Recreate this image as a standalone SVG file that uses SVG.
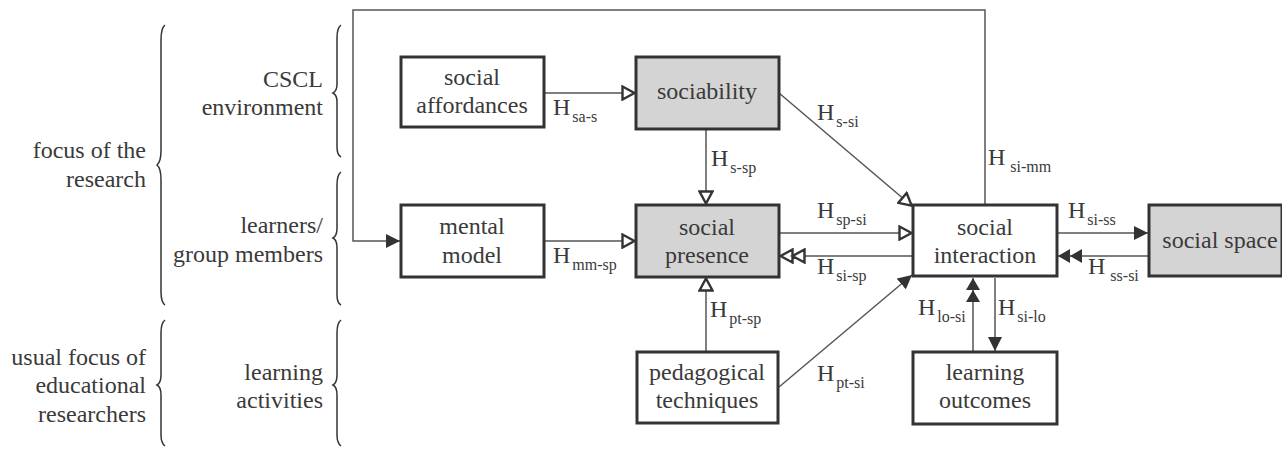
<svg xmlns="http://www.w3.org/2000/svg" width="1282" height="450" viewBox="0 0 1282 450">
<style>
text{font-family:'Liberation Serif','DejaVu Serif',serif;fill:#3a3a3a;}
.t{font-size:24px;text-anchor:middle;}
.side{font-size:24px;text-anchor:end;}
.lbl{font-size:24px;}
.sub{font-size:16px;}
.box{fill:#fff;stroke:#333;stroke-width:3;}
.grey{fill:#d4d4d4;stroke:#333;stroke-width:3;}
.ln{fill:none;stroke:#555;stroke-width:1.5;}
.brace{fill:none;stroke:#333;stroke-width:1.5;}
</style>
<defs>
<marker id="hollow" markerUnits="userSpaceOnUse" viewBox="0 0 15 16" refX="14" refY="8" markerWidth="15" markerHeight="16" orient="auto">
<path d="M1.5,1.5 L13.5,8 L1.5,14.5 Z" fill="#fff" stroke="#333" stroke-width="2.4"/>
</marker>
<marker id="hollow2" markerUnits="userSpaceOnUse" viewBox="0 0 27 16" refX="26" refY="8" markerWidth="27" markerHeight="16" orient="auto">
<path d="M1.5,1.5 L13.5,8 L1.5,14.5 Z M13.5,1.5 L25.5,8 L13.5,14.5 Z" fill="#fff" stroke="#333" stroke-width="2.4"/>
</marker>
<marker id="filled" markerUnits="userSpaceOnUse" viewBox="0 0 14 14" refX="14" refY="7" markerWidth="14" markerHeight="14" orient="auto">
<path d="M0,0 L14,7 L0,14 Z" fill="#333"/>
</marker>
<marker id="filled2" markerUnits="userSpaceOnUse" viewBox="0 0 24 14" refX="24" refY="7" markerWidth="24" markerHeight="14" orient="auto">
<path d="M0,0 L12,7 L0,14 Z M12,0 L24,7 L12,14 Z" fill="#333"/>
</marker>
</defs>

<g id="side-labels">
<text class="side" x="323" y="87">CSCL</text>
<text class="side" x="323" y="115">environment</text>
<text class="side" x="323" y="233">learners/</text>
<text class="side" x="323" y="262">group members</text>
<text class="side" x="323" y="380">learning</text>
<text class="side" x="323" y="408">activities</text>
<text class="side" x="146" y="158">focus of the</text>
<text class="side" x="146" y="187">research</text>
<text class="side" x="146" y="365">usual focus of</text>
<text class="side" x="146" y="393">educational</text>
<text class="side" x="146" y="422">researchers</text>
</g>

<g id="braces">
<path class="brace" d="M165,25 Q161,28 161,40 L161,150 Q161,162 157,165 Q161,168 161,180 L161,292 Q161,302 165,305"/>
<path class="brace" d="M165,320 Q161,323 161,333 L161,375 Q161,383 157,385 Q161,387 161,395 L161,435 Q161,443 165,446"/>
<path class="brace" d="M341,25 Q337,28 337,38 L337,84 Q337,91 333,93 Q337,95 337,102 L337,147 Q337,155 341,157"/>
<path class="brace" d="M341,172 Q337,175 337,185 L337,228 Q337,236 333,238 Q337,240 337,248 L337,295 Q337,303 341,305"/>
<path class="brace" d="M341,320 Q337,323 337,333 L337,375 Q337,383 333,385 Q337,387 337,395 L337,435 Q337,443 341,446"/>
</g>

<g id="connectors">
<path class="ln" d="M985,205 V10 H353 V241 H400" marker-end="url(#filled)"/>
<line class="ln" x1="545" y1="93" x2="635" y2="93" marker-end="url(#hollow)"/>
<line class="ln" x1="706" y1="130" x2="706" y2="204" marker-end="url(#hollow)"/>
<line class="ln" x1="545" y1="241" x2="635" y2="241" marker-end="url(#hollow)"/>
<line class="ln" x1="706" y1="351" x2="706" y2="278" marker-end="url(#hollow)"/>
<line class="ln" x1="779" y1="93" x2="912" y2="206" marker-end="url(#hollow)"/>
<line class="ln" x1="780" y1="233" x2="912" y2="233" marker-end="url(#hollow)"/>
<line class="ln" x1="912" y1="256" x2="780" y2="256" marker-end="url(#hollow2)"/>
<line class="ln" x1="779" y1="387" x2="912" y2="275" marker-end="url(#filled)"/>
<line class="ln" x1="1058" y1="233" x2="1148" y2="233" marker-end="url(#filled)"/>
<line class="ln" x1="1148" y1="256" x2="1058" y2="256" marker-end="url(#filled2)"/>
<line class="ln" x1="973" y1="351" x2="973" y2="278" marker-end="url(#filled2)"/>
<line class="ln" x1="995" y1="278" x2="995" y2="351" marker-end="url(#filled)"/>
</g>

<g id="connector-labels">
<text class="lbl" x="553" y="115">H<tspan class="sub" dx="2" dy="7">sa-s</tspan></text>
<text class="lbl" x="817" y="120">H<tspan class="sub" dx="2" dy="7">s-si</tspan></text>
<text class="lbl" x="711" y="166">H<tspan class="sub" dx="2" dy="7">s-sp</tspan></text>
<text class="lbl" x="553" y="263">H<tspan class="sub" dx="2" dy="7">mm-sp</tspan></text>
<text class="lbl" x="817" y="218">H<tspan class="sub" dx="2" dy="7">sp-si</tspan></text>
<text class="lbl" x="817" y="274">H<tspan class="sub" dx="2" dy="7">si-sp</tspan></text>
<text class="lbl" x="988" y="165">H<tspan class="sub" dx="5" dy="7">si-mm</tspan></text>
<text class="lbl" x="1068" y="218">H<tspan class="sub" dx="2" dy="7">si-ss</tspan></text>
<text class="lbl" x="1088" y="274">H<tspan class="sub" dx="5" dy="7">ss-si</tspan></text>
<text class="lbl" x="918" y="315">H<tspan class="sub" dx="2" dy="7">lo-si</tspan></text>
<text class="lbl" x="998" y="315">H<tspan class="sub" dx="2" dy="7">si-lo</tspan></text>
<text class="lbl" x="817" y="381">H<tspan class="sub" dx="2" dy="7">pt-si</tspan></text>
<text class="lbl" x="710" y="317">H<tspan class="sub" dx="2" dy="7">pt-sp</tspan></text>
</g>

<g id="social-affordances">
<rect class="box" x="401" y="57" width="143" height="70"/>
<text class="t" x="472" y="85">social</text>
<text class="t" x="472" y="113">affordances</text>
</g>
<g id="sociability">
<rect class="grey" x="636" y="57" width="143" height="72"/>
<text class="t" x="707" y="99">sociability</text>
</g>
<g id="mental-model">
<rect class="box" x="401" y="205" width="143" height="72"/>
<text class="t" x="472" y="234">mental</text>
<text class="t" x="472" y="263">model</text>
</g>
<g id="social-presence">
<rect class="grey" x="636" y="205" width="143" height="72"/>
<text class="t" x="707" y="235">social</text>
<text class="t" x="707" y="263">presence</text>
</g>
<g id="social-interaction">
<rect class="box" x="913" y="205" width="144" height="71"/>
<text class="t" x="985" y="235">social</text>
<text class="t" x="985" y="263">interaction</text>
</g>
<g id="social-space">
<rect class="grey" x="1149" y="205" width="133" height="71"/>
<text class="t" x="1220" y="248">social space</text>
</g>
<g id="pedagogical-techniques">
<rect class="box" x="637" y="352" width="141" height="71"/>
<text class="t" x="707" y="380">pedagogical</text>
<text class="t" x="707" y="408">techniques</text>
</g>
<g id="learning-outcomes">
<rect class="box" x="913" y="352" width="144" height="72"/>
<text class="t" x="985" y="380">learning</text>
<text class="t" x="985" y="408">outcomes</text>
</g>
</svg>
